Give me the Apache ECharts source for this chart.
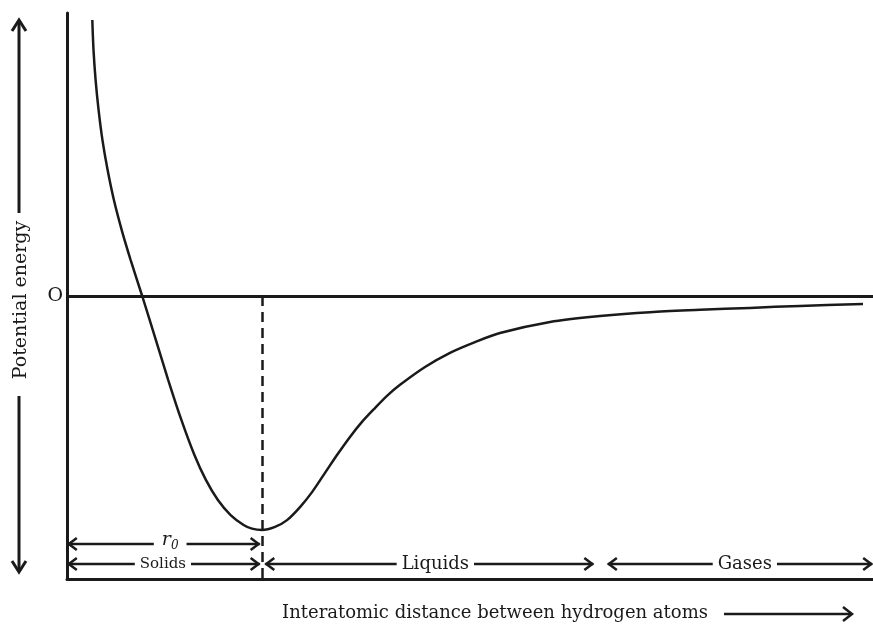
<!DOCTYPE html>
<html>
<head>
<meta charset="utf-8">
<script src="https://cdn.jsdelivr.net/npm/echarts@6/dist/echarts.min.js"></script>
<style>
  html, body { margin: 0; padding: 0; background: #fff; }
  #main { width: 873px; height: 624px; }
</style>
</head>
<body>
<div id="main"></div>
<script>
// curve (distance and energy in arbitrary units)
const distance = [3.14, 3.29, 3.55, 3.92, 4.40, 5.04, 5.82, 6.79, 7.90, 9.33, 11.02, 12.56, 14.19, 15.81, 17.23, 18.72, 20.30, 21.91, 22.95, 24.19,
  25.81, 27.30, 28.91, 30.40, 32.01, 33.50, 35.11, 36.60, 38.21, 39.70, 41.32, 44.42, 47.52, 50.62, 53.72, 59.93, 66.13, 72.33, 78.54, 84.74, 90.94, 98.76];
const energy = [9.75, 8.69, 7.63, 6.57, 5.51, 4.45, 3.39, 2.33, 1.27, 0, -1.55, -2.97, -4.38, -5.62, -6.50, -7.21, -7.74, -8.09, -8.22, -8.27,
  -8.16, -7.92, -7.46, -6.93, -6.25, -5.62, -4.98, -4.45, -3.96, -3.53, -3.14, -2.51, -2.01, -1.63, -1.31, -0.92, -0.71, -0.57, -0.49, -0.42, -0.35, -0.28];
const r0 = 24.2;

// region arrows under the curve
const zoneNames = ['r0', 'Solids', 'Liquids', 'Gases'];
const zoneStart = [0.1, 0.1, 24.6, 67.1];
const zoneEnd = [23.9, 23.9, 65.3, 99.9];
const zoneLevel = [-8.76, -9.47, -9.47, -9.47];
const zoneLabelX = [12.8, 11.9, 45.7, 84.1];

const yTicks = { min: -10, max: 10, interval: 10 };

const serif = '"DejaVu Serif", "Liberation Serif", serif';
const ink = '#1a1a1a';

let myChart = echarts.init(document.getElementById('main'));

function renderArrow(params, api) {
  const a = api.coord([api.value(0), api.value(2)]);
  const b = api.coord([api.value(1), api.value(2)]);
  const c = api.coord([api.value(3), api.value(2)]);
  const y = a[1];
  const name = zoneNames[params.dataIndex];
  const st = { stroke: ink, lineWidth: 2.5, fill: null };
  let textStyle;
  if (name === 'r0') {
    textStyle = {
      text: '{i|r}{s|0}', x: c[0], y: y - 4,
      align: 'center', verticalAlign: 'middle',
      backgroundColor: '#fff', padding: [0, 8],
      rich: {
        i: { fontFamily: serif, fontStyle: 'italic', fontSize: 19, fill: ink },
        s: { fontFamily: serif, fontStyle: 'italic', fontSize: 12, fill: ink, padding: [11, 0, 0, 0] }
      }
    };
  } else {
    textStyle = {
      text: name, x: c[0], y: y,
      align: 'center', verticalAlign: 'middle',
      font: (name === 'Solids' ? 15 : 18) + 'px ' + serif,
      fill: ink, backgroundColor: '#fff', padding: [1, 5]
    };
  }
  return {
    type: 'group',
    children: [
      { type: 'line', shape: { x1: a[0], y1: y, x2: b[0], y2: y }, style: st },
      { type: 'polyline', shape: { points: [[a[0] + 9, y - 6], [a[0] + 1, y], [a[0] + 9, y + 6]] }, style: st },
      { type: 'polyline', shape: { points: [[b[0] - 9, y - 6], [b[0] - 1, y], [b[0] - 9, y + 6]] }, style: st },
      { type: 'text', style: textStyle }
    ]
  };
}

const option = {
  animation: false,
  backgroundColor: '#fff',
  grid: { left: 67, right: 0, top: 13, height: 566 },
  xAxis: {
    type: 'value', min: 0, max: 100,
    axisLine: { onZero: false, lineStyle: { color: ink, width: 3 } },
    axisTick: { show: false }, axisLabel: { show: false }, splitLine: { show: false }
  },
  yAxis: {
    type: 'value', min: yTicks.min, max: yTicks.max, interval: yTicks.interval,
    axisLine: { show: true, lineStyle: { color: ink, width: 3 } },
    axisTick: { show: false }, splitLine: { show: false },
    axisLabel: {
      margin: 4, color: ink, fontFamily: serif, fontSize: 19,
      formatter: function (v) { return v === 0 ? 'O' : ''; }
    }
  },
  series: [
    {
      type: 'line',
      data: distance.map(function (d, i) { return [d, energy[i]]; }),
      smooth: 0.3, showSymbol: false,
      lineStyle: { color: ink, width: 2.5 },
      markLine: {
        silent: true, symbol: 'none', label: { show: false },
        data: [
          { yAxis: 0, lineStyle: { color: ink, width: 3, type: 'solid' } },
          [
            { coord: [r0, 0], lineStyle: { color: ink, width: 2.5, type: [10, 6] } },
            { coord: [r0, yTicks.min] }
          ]
        ]
      }
    },
    {
      type: 'custom',
      renderItem: renderArrow,
      data: zoneNames.map(function (n, i) { return [zoneStart[i], zoneEnd[i], zoneLevel[i], zoneLabelX[i]]; }),
      z: 5
    }
  ],
  graphic: [
    // y-axis title with arrows
    { type: 'line', shape: { x1: 19, y1: 21, x2: 19, y2: 213 }, style: { stroke: ink, lineWidth: 3 } },
    { type: 'polyline', shape: { points: [[12, 31], [19, 20], [26, 31]] }, style: { stroke: ink, lineWidth: 3, fill: null } },
    { type: 'line', shape: { x1: 19, y1: 396, x2: 19, y2: 571 }, style: { stroke: ink, lineWidth: 3 } },
    { type: 'polyline', shape: { points: [[12, 561], [19, 572], [26, 561]] }, style: { stroke: ink, lineWidth: 3, fill: null } },
    {
      type: 'text', x: 21, y: 300, rotation: Math.PI / 2,
      style: { text: 'Potential energy', font: '19px ' + serif, fill: ink, align: 'center', verticalAlign: 'middle' }
    },
    // x-axis title with arrow
    {
      type: 'text', x: 495, y: 613,
      style: { text: 'Interatomic distance between hydrogen atoms', font: '18px ' + serif, fill: ink, align: 'center', verticalAlign: 'middle' }
    },
    { type: 'line', shape: { x1: 724, y1: 614, x2: 851, y2: 614 }, style: { stroke: ink, lineWidth: 2.5 } },
    { type: 'polyline', shape: { points: [[843, 607], [852, 614], [843, 621]] }, style: { stroke: ink, lineWidth: 2.5, fill: null } }
  ]
};

myChart.setOption(option);
</script>
</body>
</html>
